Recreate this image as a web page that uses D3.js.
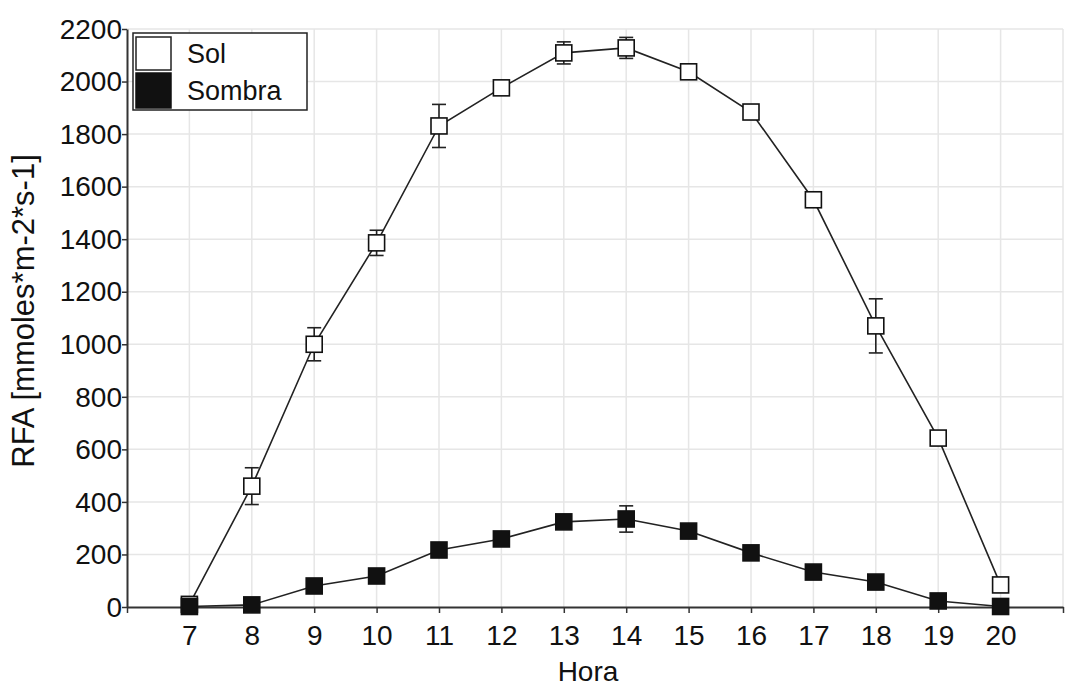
<!DOCTYPE html>
<html>
<head>
<meta charset="utf-8">
<script src="https://cdn.jsdelivr.net/npm/d3@7"></script>
<style>
  body { margin: 0; background: #fff; }
  svg text { font-family: Arial, "Liberation Sans", sans-serif; fill: #111; }
</style>
</head>
<body>
<div id="chart"></div>
<script>
// data
const horas = [7, 8, 9, 10, 11, 12, 13, 14, 15, 16, 17, 18, 19, 20];
const sol = [10, 460, 1000, 1386, 1831, 1976, 2109, 2128, 2037, 1884, 1550, 1070, 643, 84];
const solErr = [0, 70, 63, 48, 82, 0, 42, 40, 10, 0, 0, 103, 0, 0];
const sombra = [2, 8, 80, 118, 217, 259, 324, 335, 289, 206, 133, 95, 23, 2];
const sombraErr = [0, 0, 0, 0, 0, 0, 0, 50, 0, 0, 0, 0, 0, 0];
const yTicks = [0, 200, 400, 600, 800, 1000, 1200, 1400, 1600, 1800, 2000, 2200];
const xTicks = [6, 7, 8, 9, 10, 11, 12, 13, 14, 15, 16, 17, 18, 19, 20, 21];

const width = 1065, height = 687;
const margin = { top: 29, bottom: 80, left: 127, right: 2 };

const svg = d3.select("#chart").append("svg")
    .attr("width", width)
    .attr("height", height);

const xScale = d3.scaleLinear()
    .domain([6, 21])
    .range([margin.left, width - margin.right]);
const yScale = d3.scaleLinear()
    .domain([0, 2200])
    .range([height - margin.bottom, margin.top]);

// grid
svg.append("g")
    .selectAll("line.vgrid")
    .data(xTicks.slice(1))
    .join("line")
    .attr("x1", d => xScale(d)).attr("x2", d => xScale(d))
    .attr("y1", yScale(0)).attr("y2", yScale(2200))
    .attr("stroke", "#e6e6e6").attr("stroke-width", 1.5);
svg.append("g")
    .selectAll("line.hgrid")
    .data(yTicks.slice(1))
    .join("line")
    .attr("x1", xScale(6)).attr("x2", xScale(21))
    .attr("y1", d => yScale(d)).attr("y2", d => yScale(d))
    .attr("stroke", "#e6e6e6").attr("stroke-width", 1.5);

// axes
const xAxis = d3.axisBottom(xScale)
    .tickValues(xTicks)
    .tickSize(6)
    .tickSizeOuter(0)
    .tickFormat(d => (d >= 7 && d <= 20) ? d : "");
const yAxis = d3.axisLeft(yScale)
    .tickValues(yTicks)
    .tickSize(5)
    .tickSizeOuter(0)
    .tickFormat(d3.format("d"));

const gx = svg.append("g")
    .attr("transform", `translate(0,${yScale(0)})`)
    .call(xAxis);
gx.select(".domain").attr("stroke", "#333").attr("stroke-width", 2);
gx.selectAll(".tick line").attr("stroke", "#333").attr("stroke-width", 1.5);
gx.selectAll(".tick text").attr("font-size", 28).attr("dy", "1.05em").attr("fill", "#111");

const gy = svg.append("g")
    .attr("transform", `translate(${xScale(6)},0)`)
    .call(yAxis);
gy.select(".domain").attr("stroke", "#333").attr("stroke-width", 2);
gy.selectAll(".tick line").attr("stroke", "#333").attr("stroke-width", 1.5);
gy.selectAll(".tick text").attr("font-size", 28).attr("x", -5).attr("dy", "0.33em").attr("fill", "#111");

// axis titles
svg.append("text")
    .attr("x", 588).attr("y", 681)
    .attr("text-anchor", "middle")
    .attr("font-size", 28)
    .text("Hora");
svg.append("text")
    .attr("transform", `translate(34,311) rotate(-90)`)
    .attr("text-anchor", "middle")
    .attr("font-size", 31)
    .text("RFA [mmoles*m-2*s-1]");

const line = d3.line()
    .x(d => xScale(d[0]))
    .y(d => yScale(d[1]));

function drawSeries(values, errs, fill) {
    const pts = horas.map((h, i) => [h, values[i], errs[i]]);
    const g = svg.append("g");
    g.append("path")
        .datum(pts)
        .attr("d", line)
        .attr("fill", "none")
        .attr("stroke", "#222")
        .attr("stroke-width", 1.6);
    const eb = g.selectAll("g.err")
        .data(pts.filter(d => d[2] > 0))
        .join("g")
        .attr("stroke", "#222")
        .attr("stroke-width", 1.6);
    eb.append("line")
        .attr("x1", d => xScale(d[0])).attr("x2", d => xScale(d[0]))
        .attr("y1", d => yScale(d[1] + d[2])).attr("y2", d => yScale(d[1] - d[2]));
    eb.append("line")
        .attr("x1", d => xScale(d[0]) - 7).attr("x2", d => xScale(d[0]) + 7)
        .attr("y1", d => yScale(d[1] + d[2])).attr("y2", d => yScale(d[1] + d[2]));
    eb.append("line")
        .attr("x1", d => xScale(d[0]) - 7).attr("x2", d => xScale(d[0]) + 7)
        .attr("y1", d => yScale(d[1] - d[2])).attr("y2", d => yScale(d[1] - d[2]));
    g.selectAll("rect")
        .data(pts)
        .join("rect")
        .attr("x", d => xScale(d[0]) - 8)
        .attr("y", d => yScale(d[1]) - 8)
        .attr("width", 16).attr("height", 16)
        .attr("fill", fill)
        .attr("stroke", "#111")
        .attr("stroke-width", 1.6);
}

drawSeries(sol, solErr, "#fff");
drawSeries(sombra, sombraErr, "#111");

// legend
const legend = svg.append("g");
legend.append("rect")
    .attr("x", 133).attr("y", 33).attr("width", 174).attr("height", 77)
    .attr("fill", "#fff").attr("stroke", "#222").attr("stroke-width", 1.5);
legend.append("rect")
    .attr("x", 136).attr("y", 37).attr("width", 35).attr("height", 33)
    .attr("fill", "#fff").attr("stroke", "#222").attr("stroke-width", 1.5);
legend.append("rect")
    .attr("x", 136).attr("y", 73).attr("width", 35).attr("height", 35)
    .attr("fill", "#111").attr("stroke", "#111").attr("stroke-width", 1.5);
legend.append("text")
    .attr("x", 187).attr("y", 63).attr("font-size", 27).text("Sol");
legend.append("text")
    .attr("x", 187).attr("y", 100).attr("font-size", 27).text("Sombra");
</script>
</body>
</html>
